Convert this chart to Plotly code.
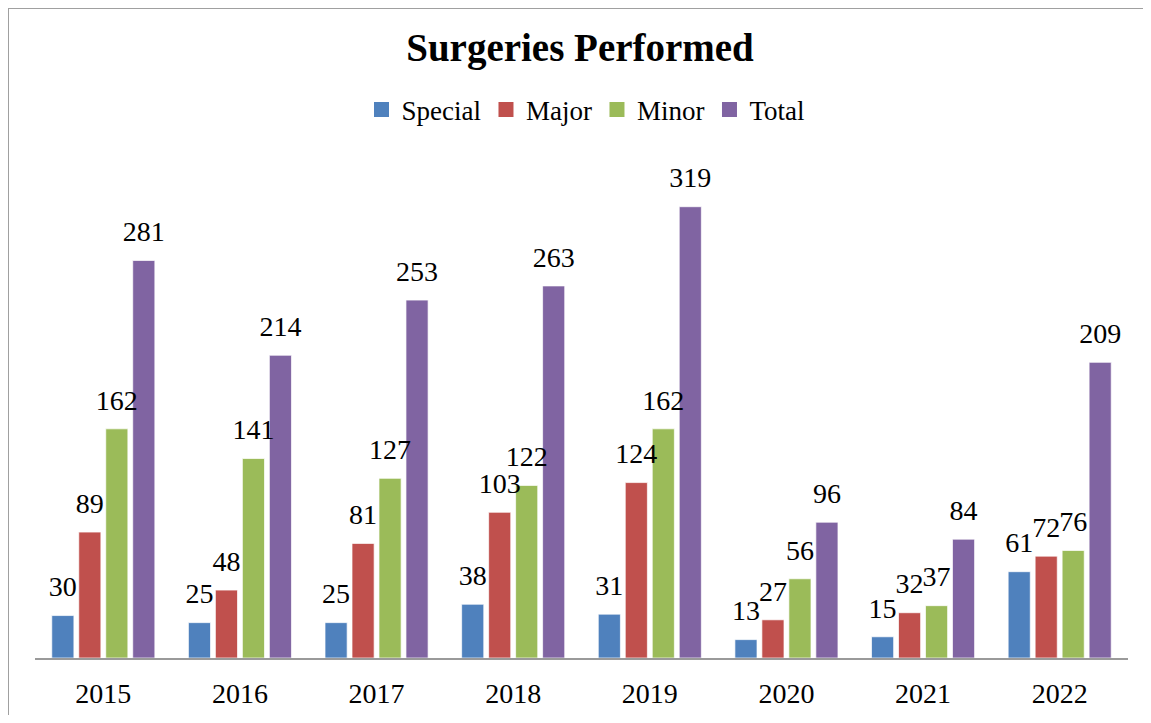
import plotly.graph_objects as go

years = ["2015", "2016", "2017", "2018", "2019", "2020", "2021", "2022"]
special = [30, 25, 25, 38, 31, 13, 15, 61]
major = [89, 48, 81, 103, 124, 27, 32, 72]
minor = [162, 141, 127, 122, 162, 56, 37, 76]
total = [281, 214, 253, 263, 319, 96, 84, 209]

series = [
    ("Special", special, "#4F81BD"),
    ("Major", major, "#C0504D"),
    ("Minor", minor, "#9BBB59"),
    ("Total", total, "#8064A2"),
]

FONT = "Liberation Serif"
GAP = 0.21
fig = go.Figure()
for i, (name, vals, col) in enumerate(series):
    fig.add_trace(go.Bar(
        x=years, y=vals, name=name, offsetgroup=str(i), showlegend=False,
        marker=dict(color=col, line=dict(color="rgba(255,255,255,0.7)", width=1)),
        hoverinfo="x+y+name",
    ))
for i, (name, vals, col) in enumerate(series):
    fig.add_trace(go.Scatter(
        x=years, y=vals, mode="markers+text", offsetgroup=str(i),
        text=[str(v) for v in vals], textposition="top center",
        textfont=dict(family=FONT, size=28, color="#000000"),
        marker=dict(size=18, opacity=0), showlegend=False, hoverinfo="skip",
        cliponaxis=False,
    ))
# legend entries with larger square swatches
for i, (name, vals, col) in enumerate(series):
    fig.add_trace(go.Scatter(
        x=[None], y=[None], mode="markers", name=name, offsetgroup=str(i),
        marker=dict(symbol="square", size=15, color=col), showlegend=True,
    ))

# page body has an 8px margin, so the figure is drawn offset by (8, 8);
# keep the figure inside the viewport to avoid scrollbars
OFF = 8
W, H = 1151 - 2 * OFF, 723 - 2 * OFF
L, T = 35 - OFF, 177 - OFF
R = W - (1128 - OFF)
B = H - (658 - OFF)
pw, ph = W - L - R, H - T - B

fig.update_layout(
    width=W, height=H,
    margin=dict(l=L, r=R, t=T, b=B, autoexpand=False),
    paper_bgcolor="white", plot_bgcolor="white",
    barmode="group", bargap=GAP, bargroupgap=0.18,
    scattermode="group", scattergap=GAP,
    title=dict(text="<b>Surgeries Performed</b>", x=(580 - OFF) / W, xanchor="center",
               y=1 - (47 - OFF) / H, yanchor="middle", yref="container",
               automargin=False,
               font=dict(family=FONT, size=39, color="#000000")),
    legend=dict(orientation="h", x=(586 - 35) / pw, xanchor="center",
                y=(658 - 110) / ph, yanchor="middle",
                font=dict(family=FONT, size=27, color="#000000"),
                itemsizing="trace", tracegroupgap=0, traceorder="normal",
                itemwidth=30),
    xaxis=dict(showline=True, linecolor="#9a9a9a", linewidth=2, showgrid=False,
               ticks="", ticklabelstandoff=9, zeroline=False, automargin=False,
               tickfont=dict(family=FONT, size=28, color="#000000")),
    yaxis=dict(range=[0, 340], visible=False, fixedrange=True, automargin=False),
    showlegend=True,
)

# outer frame (top and left edges visible in the reference)
fy = (658 - 3 - 5) / ph
fx = (5 + 3 - 35) / pw
fig.add_shape(type="line", xref="paper", yref="paper",
              x0=fx, x1=(W - L + 20) / pw, y0=fy, y1=fy,
              line=dict(color="#a0a0a0", width=2))
fig.add_shape(type="line", xref="paper", yref="paper",
              x0=fx, x1=fx, y0=fy, y1=-(B + 20) / ph,
              line=dict(color="#a0a0a0", width=2))

fig.write_html("out.html")
